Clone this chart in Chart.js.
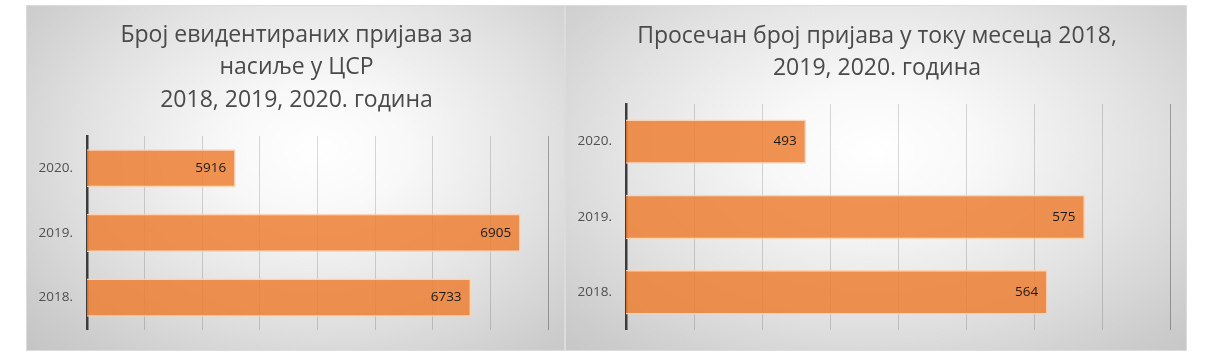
<!DOCTYPE html>
<html>
<head>
<meta charset="utf-8">
<script src="https://cdn.jsdelivr.net/npm/chart.js@4"></script>
<style>
  html, body { margin: 0; padding: 0; background: #ffffff; }
  body { width: 1210px; height: 360px; position: relative; overflow: hidden; }
  .panel { position: absolute; top: 5px; height: 346px; box-sizing: border-box; border: 1px solid #dcdcdc; }
  #p1 { left: 26px; width: 539px;
        background: radial-gradient(ellipse 78% 88% at 54% 42%, #ffffff 0%, #f8f8f8 22%, #e2e2e2 55%, #cdcdcd 82%, #c2c2c2 100%); }
  #p2 { left: 565px; width: 622px;
        background: radial-gradient(ellipse 78% 88% at 50% 42%, #ffffff 0%, #f8f8f8 22%, #e2e2e2 55%, #cdcdcd 82%, #c2c2c2 100%); }
  canvas { position: absolute; left: 0; top: 0; }
</style>
</head>
<body>
<div class="panel" id="p1"><canvas id="c1" width="539" height="346"></canvas></div>
<div class="panel" id="p2"><canvas id="c2" width="622" height="346"></canvas></div>
<script>
// ---- data ----
const categories = ['2020.', '2019.', '2018.'];
const totalReports = [5916, 6905, 6733];
const monthlyAverage = [493, 575, 564];
const title1 = ['Број евидентираних пријава за', 'насиље у ЦСР', '2018, 2019, 2020. година'];
const title2 = ['Просечан број пријава у току месеца 2018,', '2019, 2020. година'];
const axis1 = { min: 5400, max: 7000, step: 200 };
const axis2 = { min: 440, max: 600, step: 20 };

const FONT = '"Open Sans", "Noto Sans", sans-serif';

const valueLabels = {
  id: 'valueLabels',
  afterDatasetsDraw(chart) {
    const ctx = chart.ctx;
    const meta = chart.getDatasetMeta(0);
    const values = chart.data.datasets[0].data;
    ctx.save();
    ctx.font = '13.5px ' + FONT;
    ctx.fillStyle = '#1a1a1a';
    ctx.textAlign = 'right';
    ctx.textBaseline = 'middle';
    meta.data.forEach((bar, i) => {
      ctx.fillText(String(values[i]), bar.x - 9.5, bar.y);
    });
    ctx.restore();
  }
};

function makeChart(id, values, titleLines, axis, titlePad) {
  return new Chart(document.getElementById(id), {
    type: 'bar',
    data: {
      labels: categories,
      datasets: [{
        data: values,
        backgroundColor: 'rgba(237,125,49,0.84)',
        borderColor: 'rgba(252,210,178,0.95)',
        borderWidth: 1.5,
        categoryPercentage: 1,
        barPercentage: 0.59
      }]
    },
    options: {
      indexAxis: 'y',
      responsive: false,
      animation: false,
      events: [],
      layout: { padding: { left: 0, right: 0, top: 0, bottom: 19 } },
      plugins: {
        legend: { display: false },
        tooltip: { enabled: false },
        title: {
          display: true,
          text: titleLines,
          color: '#4a4a4a',
          font: { family: FONT, size: 23, weight: 'normal', lineHeight: 1.404 },
          padding: titlePad
        }
      },
      scales: {
        x: {
          min: axis.min,
          max: axis.max,
          ticks: { display: false, stepSize: axis.step },
          grid: {
            drawTicks: false,
            lineWidth: 1,
            color: (c) => c.index === 8 ? 'rgba(0,0,0,0.3)' : 'rgba(0,0,0,0.15)'
          },
          border: { display: false },
          afterFit(scale) { scale.height = 0; }
        },
        y: {
          grid: { display: false, drawTicks: false },
          border: { display: true, color: '#3c3c3c', width: 2.5 },
          ticks: { color: '#505050', padding: 14, font: { family: FONT, size: 13.5 } },
          afterFit(scale) { scale.width = 60; }
        },
        yRight: {
          type: 'category',
          position: 'right',
          grid: { display: false, drawTicks: false },
          border: { display: false },
          ticks: { display: false },
          afterFit(scale) { scale.width = 18; }
        }
      }
    },
    plugins: [valueLabels]
  });
}

makeChart('c1', totalReports, title1, axis1, { top: 13.5, bottom: 19.6 });
makeChart('c2', monthlyAverage, title2, axis2, { top: 14.2, bottom: 19.2 });
</script>
</body>
</html>
